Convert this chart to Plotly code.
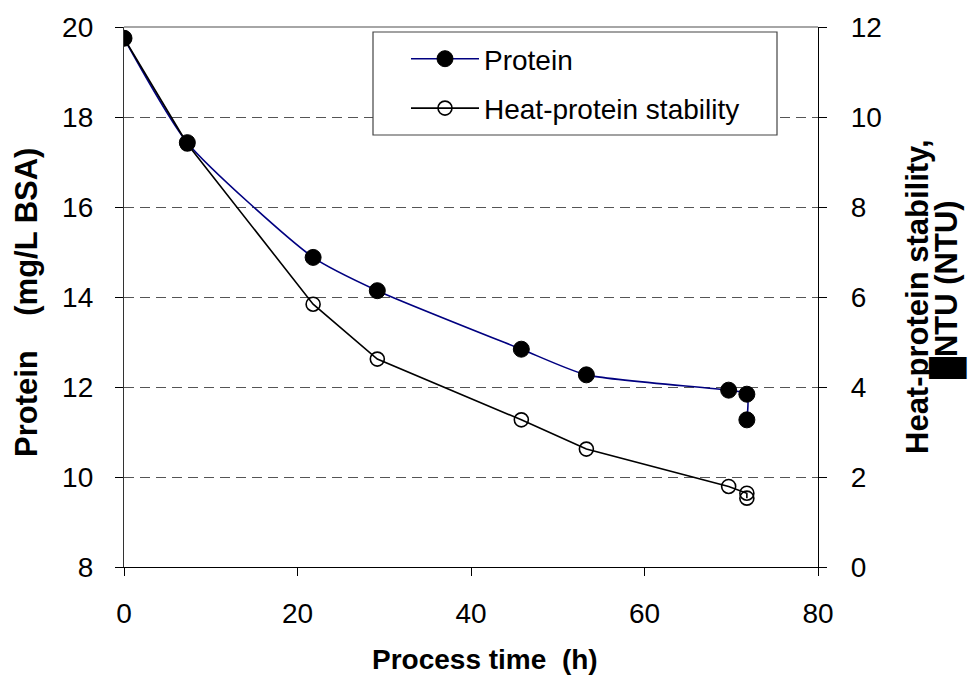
import plotly.graph_objects as go

# Data
time_protein = [0, 7.3, 21.8, 29.2, 45.8, 53.3, 69.7, 71.8, 71.8]
protein = [19.75, 17.43, 14.88, 14.14, 12.84, 12.27, 11.93, 11.84, 11.27]

time_stab = [0, 7.3, 21.8, 29.2, 45.8, 53.3, 69.7, 71.8, 71.8]
stability = [11.75, 9.4, 5.84, 4.62, 3.27, 2.62, 1.79, 1.64, 1.53]

x_ticks = [0, 20, 40, 60, 80]
left_ticks = [8, 10, 12, 14, 16, 18, 20]
right_ticks = [0, 2, 4, 6, 8, 10, 12]

FONT = "Liberation Sans, Arial, sans-serif"
FS = 28      # horizontal texts
FSV = 31     # rotated titles

W, H = 971, 683
ML, MR, MT, MB = 124, 153, 27, 116
PW, PH = W - ML - MR, H - MT - MB


def px_x(p):
    return (p - ML) / PW


def px_y(p):
    return 1 - (p - MT) / PH


fig = go.Figure()
fig.add_trace(go.Scatter(
    x=time_protein, y=protein, name="Protein",
    mode="lines+markers", legendgroup="a",
    line=dict(color="#000080", width=1.6, shape="spline", smoothing=0.6),
    marker=dict(symbol="circle", size=16, color="black", line=dict(color="black", width=1)),
    yaxis="y",
))
fig.add_trace(go.Scatter(
    x=time_stab, y=stability, name="Heat-protein stability",
    mode="lines+markers", legendgroup="b",
    line=dict(color="black", width=1.6),
    marker=dict(symbol="circle-open", size=14, color="black", line=dict(color="black", width=1.6)),
    yaxis="y2",
))

fig.update_layout(
    width=W, height=H,
    margin=dict(l=ML, r=MR, t=MT, b=MB),
    paper_bgcolor="white", plot_bgcolor="white",
    font=dict(family=FONT, size=FS, color="black"),
    showlegend=True,
    legend=dict(
        x=px_x(406), y=px_y(34), xanchor="left", yanchor="top",
        bgcolor="rgba(0,0,0,0)", borderwidth=0,
        font=dict(family=FONT, size=FS, color="black"),
        itemwidth=68, tracegroupgap=10,
    ),
    xaxis=dict(
        range=[0, 80], tickvals=x_ticks, ticktext=[str(v) for v in x_ticks],
        showgrid=False, zeroline=False,
        showline=True, linecolor="black", linewidth=1.3, mirror=False,
        ticks="outside", ticklen=8, tickcolor="black", tickwidth=1.2,
        tickfont=dict(family=FONT, size=FS), ticklabelstandoff=13,
    ),
    yaxis=dict(
        range=[8, 20], tickvals=left_ticks, ticktext=[str(v) for v in left_ticks],
        showgrid=True, gridcolor="#555555", gridwidth=1.2, griddash="10px,6px",
        zeroline=False,
        showline=True, linecolor="#333333", linewidth=1.3,
        ticks="outside", ticklen=8, tickcolor="black", tickwidth=1.2,
        tickfont=dict(family=FONT, size=FS), ticklabelstandoff=16,
    ),
    yaxis2=dict(
        range=[0, 12], tickvals=right_ticks, ticktext=[str(v) for v in right_ticks],
        overlaying="y", side="right",
        showgrid=False, zeroline=False,
        showline=True, linecolor="black", linewidth=1.3,
        ticks="outside", ticklen=8, tickcolor="black", tickwidth=1.2,
        tickfont=dict(family=FONT, size=FS), ticklabelstandoff=18,
    ),
    shapes=[
        dict(type="line", xref="paper", yref="paper", x0=0, x1=1, y0=1, y1=1,
             line=dict(color="#888888", width=1.5)),
        dict(type="rect", xref="paper", yref="paper", layer="above",
             x0=px_x(373), x1=px_x(777), y0=px_y(135), y1=px_y(32),
             fillcolor="white", line=dict(color="#444444", width=1.2)),
    ],
    annotations=[
        dict(text="<b>Process time\u00a0\u00a0(h)</b>", xref="paper", yref="paper",
             x=px_x(485), y=px_y(659), xanchor="center", yanchor="middle", showarrow=False,
             font=dict(family=FONT, size=FS)),
        dict(text="<b>Protein\u00a0\u00a0\u00a0\u00a0(mg/L BSA)</b>", xref="paper", yref="paper",
             x=px_x(26), y=px_y(303), xanchor="center", yanchor="middle", showarrow=False,
             textangle=-90, font=dict(family=FONT, size=FSV)),
        dict(text="<b>Heat-protein stability,</b>", xref="paper", yref="paper",
             x=px_x(917), y=px_y(297), xanchor="center", yanchor="middle", showarrow=False,
             textangle=-90, font=dict(family=FONT, size=FSV)),
        dict(text="<b>\u2588NTU (NTU)</b>", xref="paper", yref="paper",
             x=px_x(947), y=px_y(290), xanchor="center", yanchor="middle", showarrow=False,
             textangle=-90, font=dict(family=FONT, size=FSV)),
    ],
)

fig.write_html("out.html")
